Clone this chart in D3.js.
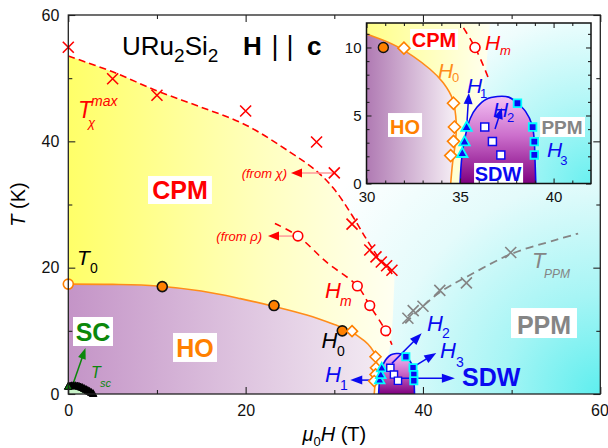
<!DOCTYPE html>
<html><head><meta charset="utf-8">
<script src="https://cdn.jsdelivr.net/npm/d3@7"></script>
<style>
html,body{margin:0;padding:0;background:#fff;}
svg{display:block;font-family:"Liberation Sans",Arial,sans-serif;}
</style></head><body>
<svg id="chart" width="608" height="448"></svg>
<script>
// ---------------- data (field in tesla, temperature in kelvin) ----------------
// T_chi^max crosses
const tChiH = [0, 5, 10, 20, 28, 30, 32, 34, 34.7, 35.3, 35.9, 36.5];
const tChiT = [54.9, 49.9, 47.3, 44.8, 39.9, 35.0, 26.9, 22.8, 21.7, 20.9, 20.3, 19.6];
// T_chi^max guide line
const tChiGuideH = [0, 5, 10, 15, 20, 25, 28, 30, 32, 33.5, 35, 36.8];
const tChiGuideT = [53.5, 51.0, 48.0, 45.4, 42.6, 38.3, 35.3, 32.4, 28.3, 24.8, 21.6, 18.6];
// metamagnetic field H_m (open circles) and its guide line
const hmH = [25.9, 32.6, 34.0, 35.8];
const hmT = [25.0, 17.1, 14.0, 10.0];
const hmGuideH = [23.3, 25.9, 29.1, 32.6, 34.0, 35.8, 36.5];
const hmGuideT = [27.0, 25.0, 20.9, 17.1, 14.0, 10.0, 7.8];
// hidden-order boundary T0 / H0
const t0OpenH = [0];
const t0OpenT = [17.4];
const h0CircleH = [10.6, 23.2, 30.9];
const h0CircleT = [17.0, 14.0, 10.0];
const h0DiamondH = [32.0, 34.65, 34.7, 34.65, 34.5];
const h0DiamondT = [9.95, 5.9, 4.15, 3.1, 2.05];
const hoLineH = [0, 5, 10, 15, 19.4, 23.1, 26.9, 30.0, 31.6, 33.4, 34.1, 34.6, 34.8, 34.75, 34.6, 34.5];
const hoLineT = [17.4, 17.35, 17.1, 16.3, 15.1, 13.9, 12.5, 11.0, 10.1, 8.4, 7.4, 6.2, 4.4, 3.0, 1.5, 0];
// spin-density-wave dome
const sdwDomeH = [35.0, 35.1, 35.3, 35.55, 35.9, 36.4, 37.0, 37.6, 38.07, 38.5, 38.85, 38.97, 39.0, 39.05];
const sdwDomeT = [0, 2.0, 3.6, 4.8, 5.6, 6.2, 6.4, 6.35, 5.9, 5.3, 4.3, 3.1, 2.0, 0];
const h1H = [35.12, 35.24, 35.35];
const h1T = [2.23, 3.08, 4.15];
const h2H = [36.32, 36.73, 37.18];
const h2T = [4.15, 3.08, 2.1];
const h3H = [38.07, 38.88, 38.97, 38.97];
const h3T = [5.9, 4.15, 3.08, 2.1];
// polarized paramagnet crossover T_PPM
const tPpmH = [38.3, 38.9, 40.0, 41.9, 44.9, 49.9];
const tPpmT = [12.0, 13.2, 13.9, 16.4, 17.6, 22.4];
const tPpmGuideH = [38.0, 40, 42, 45, 50, 55, 57.5];
const tPpmGuideT = [11.2, 13.9, 16.2, 18.6, 22.2, 24.4, 25.4];
// superconducting T_sc(H)
const scH = [0, 0.2, 0.4, 0.6, 0.8, 1.0, 1.2, 1.4, 1.6, 1.8, 2.0, 2.2, 2.4, 2.6, 2.8];
const scT = [1.2, 1.25, 1.3, 1.3, 1.3, 1.25, 1.2, 1.1, 1.0, 0.85, 0.7, 0.55, 0.4, 0.22, 0.05];
// axis ticks
const mainXTicks = [0, 20, 40, 60];
const mainXMinor = [10, 30, 50];
const mainYTicks = [0, 20, 40, 60];
const mainYMinor = [10, 30, 50];
const insetXTicks = [30, 35, 40];
const insetXMinor = [31, 32, 33, 34, 36, 37, 38, 39, 41];
const insetYTicks = [0, 5, 10];
const insetYMinor = [1, 2, 3, 4, 6, 7, 8, 9, 11];

const zip = (a, b) => a.map((v, i) => [v, b[i]]);

// ---------------- scales ----------------
const x = d3.scaleLinear().domain([0, 60]).range([68.3, 600.3]);
const y = d3.scaleLinear().domain([0, 60]).range([394, 15]);
const xi = d3.scaleLinear().domain([30, 42]).range([366.5, 591]);
const yi = d3.scaleLinear().domain([0, 11.8]).range([183.5, 23]);

const svg = d3.select('#chart');
const defs = svg.append('defs');

function linGrad(id, x1, y1, x2, y2, stops) {
  const g = defs.append('linearGradient').attr('id', id).attr('gradientUnits', 'userSpaceOnUse')
    .attr('x1', x1).attr('y1', y1).attr('x2', x2).attr('y2', y2);
  stops.forEach(([o, c]) => g.append('stop').attr('offset', o).attr('stop-color', c));
}
function radGrad(id, cx, cy, r, stops) {
  const g = defs.append('radialGradient').attr('id', id).attr('gradientUnits', 'userSpaceOnUse')
    .attr('cx', cx).attr('cy', cy).attr('r', r);
  stops.forEach(([o, c]) => g.append('stop').attr('offset', o).attr('stop-color', c));
}
function vGrad(id, stops) {
  const g = defs.append('linearGradient').attr('id', id).attr('x1', 0).attr('y1', 0).attr('x2', 0).attr('y2', 1);
  stops.forEach(([o, c]) => g.append('stop').attr('offset', o).attr('stop-color', c));
}

radGrad('ppmMain', x(60), y(0), 330, [[0, '#5eeeee'], [0.3, '#a6f5f5'], [0.65, '#e4fbfb'], [1, '#ffffff']]);
linGrad('cpmMain', x(0), 0, x(37), 0, [[0, '#ffff68'], [0.6, '#ffffc0'], [1, '#fffff2']]);
linGrad('hoMain', x(0), 0, x(34.7), 0, [[0, '#c494c7'], [1, '#f2e9f2']]);
vGrad('sdwFill', [[0, '#f4c2f4'], [0.45, '#cc6fcc'], [1, '#800080']]);
radGrad('ppmInset', xi(42), yi(0), 210, [[0, '#6af0f0'], [0.4, '#b4f7f7'], [0.8, '#effdfd'], [1, '#ffffff']]);
linGrad('cpmInset', xi(30), 0, xi(36.6), 0, [[0, '#ffff88'], [1, '#fffff0']]);
linGrad('hoInset', xi(30), 0, xi(34.7), 0, [[0, '#b07ab3'], [1, '#f5eef5']]);

defs.append('clipPath').attr('id', 'clipMain').append('rect')
  .attr('x', x(0)).attr('y', y(60)).attr('width', x(60) - x(0)).attr('height', y(0) - y(60));
defs.append('clipPath').attr('id', 'clipInset').append('rect')
  .attr('x', xi(30)).attr('y', yi(11.8)).attr('width', xi(42) - xi(30)).attr('height', yi(0) - yi(11.8));

const RED = '#ff0000', ORANGE = '#ff8000', BLUE = '#0a0af0', GREEN = '#0b870b', GRAY = '#858585', CYAN = '#00ffff';

// ---------------- helpers ----------------
const curveLine = (sx, sy) => d3.line().x(d => sx(d[0])).y(d => sy(d[1])).curve(d3.curveCatmullRom.alpha(0.5));

function drawPhases(g, sx, sy, ids, x0, x1, t0, t1) {
  g.append('rect').attr('x', sx(x0)).attr('y', sy(t1)).attr('width', sx(x1) - sx(x0)).attr('height', sy(t0) - sy(t1))
    .attr('fill', `url(#${ids.ppm})`);
  // correlated paramagnet: below T_chi^max, down to the SDW dome
  const top = curveLine(sx, sy)(zip(tChiGuideH, tChiGuideT));
  const edge = [[36.6, 12], [36.4, 8.5], [36.1, 6.0], [35.55, 4.8], [35.3, 3.6], [35.1, 2.0], [35.0, 0], [0, 0]];
  g.append('path').attr('d', top + edge.map(p => `L${sx(p[0])},${sy(p[1])}`).join('') + 'Z')
    .attr('fill', `url(#${ids.cpm})`);
  // hidden order
  const ho = curveLine(sx, sy)(zip(hoLineH, hoLineT));
  g.append('path').attr('d', ho + `L${sx(0)},${sy(0)}Z`).attr('fill', `url(#${ids.ho})`);
  // SDW dome
  const dome = curveLine(sx, sy)(zip(sdwDomeH, sdwDomeT));
  g.append('path').attr('d', dome + 'Z').attr('fill', 'url(#sdwFill)');
  g.append('path').attr('d', dome).attr('fill', 'none').attr('stroke', BLUE).attr('stroke-width', 1.6);
}

function markers(g, xs, ys, sx, sy, shape, s, style) {
  const paths = {
    cross: `M${-s},${-s}L${s},${s}M${-s},${s}L${s},${-s}`,
    diamond: `M0,${-s}L${s},0L0,${s}L${-s},0Z`,
    square: `M${-s},${-s}H${s}V${s}H${-s}Z`,
    triangle: `M0,${-s}L${s * 0.95},${s * 0.7}L${-s * 0.95},${s * 0.7}Z`
  };
  const sel = g.append('g').selectAll('g').data(zip(xs, ys)).join(shape === 'circle' ? 'circle' : 'path');
  if (shape === 'circle') sel.attr('cx', d => sx(d[0])).attr('cy', d => sy(d[1])).attr('r', s);
  else sel.attr('transform', d => `translate(${sx(d[0])},${sy(d[1])})`).attr('d', paths[shape]);
  Object.entries(style).forEach(([k, v]) => sel.attr(k, v));
  return sel;
}

function arrow(g, x1, y1, x2, y2, o) {
  const len = o.len || 12, half = o.half || 4.5;
  const dx = x2 - x1, dy = y2 - y1, L = Math.hypot(dx, dy), ux = dx / L, uy = dy / L;
  const bx = x2 - ux * len, by = y2 - uy * len;
  g.append('line').attr('x1', x1).attr('y1', y1).attr('x2', bx + ux).attr('y2', by + uy)
    .attr('stroke', o.line || o.color).attr('stroke-width', o.width || 1.5);
  g.append('path').attr('d', `M${x2},${y2}L${bx - uy * half},${by + ux * half}L${bx + uy * half},${by - ux * half}Z`)
    .attr('fill', o.color);
}

function txt(g, px, py, s, o) {
  const t = g.append('text').attr('x', px).attr('y', py).text(s)
    .attr('font-size', o.size).attr('fill', o.color || '#000');
  if (o.bold) t.attr('font-weight', 'bold');
  if (o.italic) t.attr('font-style', 'italic');
  if (o.anchor) t.attr('text-anchor', o.anchor);
  return t;
}

function boxLabel(g, sx, sy, box, cx, base, s, o) {
  g.append('rect').attr('x', sx(box[0])).attr('y', sy(box[3])).attr('width', sx(box[1]) - sx(box[0]))
    .attr('height', sy(box[2]) - sy(box[3])).attr('fill', '#fff');
  txt(g, sx(cx), sy(base), s, Object.assign({ bold: true, anchor: 'middle' }, o));
}

function symLabel(g, sx, sy, p, main, q, sub, o) {
  txt(g, sx(p[0]), sy(p[1]), main, { size: o.size, color: o.color, italic: true });
  txt(g, sx(q[0]), sy(q[1]), sub, { size: o.subSize, color: o.color, italic: !!o.subItalic });
}

// ================= main panel =================
const main = svg.append('g');
const phases = main.append('g').attr('clip-path', 'url(#clipMain)');
phases.append('rect').attr('x', x(0)).attr('y', y(60)).attr('width', x(60) - x(0)).attr('height', y(0) - y(60)).attr('fill', '#fff');
drawPhases(phases, x, y, { ppm: 'ppmMain', cpm: 'cpmMain', ho: 'hoMain' }, 0, 60, 0, 60);

// superconducting pocket
phases.append('path')
  .attr('d', d3.area().x(d => x(d[0])).y0(y(0)).y1(d => y(d[1])).curve(d3.curveCatmullRom)(zip(scH, scT)))
  .attr('fill', '#c9f3c9');

// guide lines
const lines = main.append('g').attr('clip-path', 'url(#clipMain)');
lines.append('path').attr('d', curveLine(x, y)(zip(hoLineH, hoLineT))).attr('fill', 'none')
  .attr('stroke', '#ff8c1a').attr('stroke-width', 1.6);
lines.append('path').attr('d', curveLine(x, y)(zip(tChiGuideH, tChiGuideT))).attr('fill', 'none')
  .attr('stroke', RED).attr('stroke-width', 1.6).attr('stroke-dasharray', '7,4');
lines.append('path').attr('d', curveLine(x, y)(zip(hmGuideH, hmGuideT))).attr('fill', 'none')
  .attr('stroke', RED).attr('stroke-width', 1.6).attr('stroke-dasharray', '7,5');
lines.append('path').attr('d', curveLine(x, y)(zip(tPpmGuideH, tPpmGuideT))).attr('fill', 'none')
  .attr('stroke', GRAY).attr('stroke-width', 1.8).attr('stroke-dasharray', '8,5');

// phase labels
const lab = main.append('g');
boxLabel(lab, x, y, [8.99, 16.2, 30.08, 34.51], 12.6, 30.87, 'CPM', { size: 25, color: RED });
boxLabel(lab, x, y, [0.53, 5.04, 7.6, 12.19], 2.79, 8.39, 'SC', { size: 25, color: GREEN });
boxLabel(lab, x, y, [11.81, 16.77, 5.07, 9.66], 14.29, 5.86, 'HO', { size: 25, color: ORANGE });
boxLabel(lab, x, y, [49.93, 57.37, 8.86, 13.61], 53.65, 9.5, 'PPM', { size: 25, color: GRAY });
txt(lab, x(44.4), y(1.27), 'SDW', { size: 25, bold: true, color: BLUE });

// title
txt(lab, x(6.06), y(53.66), 'URu', { size: 26 }).append('tspan').attr('font-size', 19).attr('dy', 7).text('2')
  .select(function () { return this.parentNode; }).append('tspan').attr('font-size', 26).attr('dy', -7).text('Si')
  .select(function () { return this.parentNode; }).append('tspan').attr('font-size', 19).attr('dy', 7).text('2');
txt(lab, x(19.7), y(53.66), 'H', { size: 26, bold: true });
txt(lab, x(23.31), y(53.66), '|', { size: 27, anchor: 'middle' });
txt(lab, x(25.0), y(53.66), '|', { size: 27, anchor: 'middle' });
txt(lab, x(26.92), y(53.66), 'c', { size: 26, bold: true });

// T_chi^max label
txt(lab, x(1.09), y(43.69), 'T', { size: 23, italic: true, color: RED });
txt(lab, x(2.56), y(45.59), 'max', { size: 14, italic: true, color: RED });
txt(lab, x(2.22), y(42.27), 'χ', { size: 13, italic: true, color: RED });
// source notes
txt(lab, x(24.67), y(34.19), '(from χ)', { size: 13, italic: true, color: RED, anchor: 'end' });
txt(lab, x(21.85), y(24.22), '(from ρ)', { size: 13, italic: true, color: RED, anchor: 'end' });
arrow(lab, x(30), y(35), x(25.12), y(35), { color: RED, line: '#ff9a9a', len: 11, half: 4.5 });
arrow(lab, x(25.9), y(25), x(22.52), y(25), { color: RED, line: '#ff9a9a', len: 11, half: 4.5 });

symLabel(lab, x, y, [0.98, 20.42], 'T', [2.45, 19.15], '0', { size: 21, subSize: 14, color: '#000' });
symLabel(lab, x, y, [28.95, 15.2], 'H', [30.64, 13.93], 'm', { size: 22, subSize: 14, color: RED, subItalic: true });
symLabel(lab, x, y, [28.56, 7.28], 'H', [30.3, 6.02], '0', { size: 22, subSize: 14, color: '#000' });
symLabel(lab, x, y, [28.95, 1.9], 'H', [30.64, 0.63], '1', { size: 22, subSize: 14, color: BLUE });
symLabel(lab, x, y, [40.45, 9.97], 'H', [42.14, 8.87], '2', { size: 22, subSize: 14, color: BLUE });
symLabel(lab, x, y, [41.92, 5.7], 'H', [43.73, 4.27], '3', { size: 22, subSize: 14, color: BLUE });
symLabel(lab, x, y, [52.3, 19.95], 'T', [53.65, 18.36], 'PPM', { size: 22, subSize: 12, color: GRAY, subItalic: true });
symLabel(lab, x, y, [2.56, 2.53], 'T', [3.58, 1.11], 'sc', { size: 16, subSize: 11, color: GREEN, subItalic: true });

// arrows of the SDW region
arrow(lab, x(35.0), y(2.2), x(31.8), y(2.2), { color: BLUE, len: 12, half: 4.5 });
arrow(lab, x(37.2), y(2.5), x(43.6), y(2.5), { color: BLUE, len: 13, half: 4.5 });
arrow(lab, x(36.5), y(4.85), x(39.85), y(9.6), { color: BLUE, len: 12, half: 4.5 });
arrow(lab, x(39.3), y(4.6), x(41.5), y(6.5), { color: BLUE, len: 12, half: 4.5 });
arrow(lab, x(0.56), y(1.69), x(1.94), y(7.28), { color: GREEN, len: 11, half: 4 });

// data markers
const mk = main.append('g');
markers(mk, scH, scT, x, y, 'triangle', 4, { fill: '#000', stroke: '#000', 'stroke-width': 1 });
markers(mk, scH.slice(0, 1), scT.slice(0, 1), x, y, 'triangle', 4, { fill: GREEN, stroke: '#000', 'stroke-width': 0.8 });
markers(mk, tChiH, tChiT, x, y, 'cross', 5.5, { fill: 'none', stroke: RED, 'stroke-width': 1.6 });
markers(mk, tPpmH, tPpmT, x, y, 'cross', 5.5, { fill: 'none', stroke: GRAY, 'stroke-width': 1.6 });
markers(mk, hmH, hmT, x, y, 'circle', 4.8, { fill: '#fff', stroke: RED, 'stroke-width': 1.6 });
markers(mk, t0OpenH, t0OpenT, x, y, 'circle', 5, { fill: '#fff', stroke: ORANGE, 'stroke-width': 1.6 });
markers(mk, h0CircleH, h0CircleT, x, y, 'circle', 5, { fill: ORANGE, stroke: '#111', 'stroke-width': 1.6 });
markers(mk, h0DiamondH, h0DiamondT, x, y, 'diamond', 5.5, { fill: '#fff', stroke: ORANGE, 'stroke-width': 1.6 });
markers(mk, h1H, h1T, x, y, 'triangle', 5, { fill: BLUE, stroke: CYAN, 'stroke-width': 1.8 });
markers(mk, h2H, h2T, x, y, 'square', 3.6, { fill: '#fff', stroke: BLUE, 'stroke-width': 1.4 });
markers(mk, h3H, h3T, x, y, 'square', 3.6, { fill: BLUE, stroke: CYAN, 'stroke-width': 1.8 });

// axes
function styleAxis(g, size) {
  g.select('.domain').remove();
  g.selectAll('line').attr('stroke', '#222').attr('stroke-width', 1.1);
  g.selectAll('text').attr('font-size', size).attr('fill', '#111').attr('font-family', '"Liberation Sans",Arial,sans-serif');
}
const ax = main.append('g');
const noLab = () => '';
const gxMain = ax.append('g').attr('transform', `translate(0,${y(0)})`)
  .call(d3.axisBottom(x).tickValues(mainXTicks).tickSize(-7).tickPadding(11).tickFormat(d3.format('d')));
styleAxis(gxMain, 16);
// keep the last label inside the canvas
gxMain.selectAll('text').filter(d => d === 60).attr('text-anchor', 'end').attr('dx', 8);
styleAxis(ax.append('g').attr('transform', `translate(0,${y(0)})`).call(d3.axisBottom(x).tickValues(mainXMinor).tickSize(-4).tickFormat(noLab)), 16);
styleAxis(ax.append('g').attr('transform', `translate(0,${y(60)})`).call(d3.axisTop(x).tickValues(mainXTicks).tickSize(-7).tickFormat(noLab)), 16);
styleAxis(ax.append('g').attr('transform', `translate(0,${y(60)})`).call(d3.axisTop(x).tickValues(mainXMinor).tickSize(-4).tickFormat(noLab)), 16);
styleAxis(ax.append('g').attr('transform', `translate(${x(0)},0)`).call(d3.axisLeft(y).tickValues(mainYTicks).tickSize(-7).tickPadding(9).tickFormat(d3.format('d'))), 16);
styleAxis(ax.append('g').attr('transform', `translate(${x(0)},0)`).call(d3.axisLeft(y).tickValues(mainYMinor).tickSize(-4).tickFormat(noLab)), 16);
styleAxis(ax.append('g').attr('transform', `translate(${x(60)},0)`).call(d3.axisRight(y).tickValues(mainYTicks).tickSize(-7).tickFormat(noLab)), 16);
styleAxis(ax.append('g').attr('transform', `translate(${x(60)},0)`).call(d3.axisRight(y).tickValues(mainYMinor).tickSize(-4).tickFormat(noLab)), 16);
ax.append('rect').attr('x', x(0)).attr('y', y(60)).attr('width', x(60) - x(0)).attr('height', y(0) - y(60))
  .attr('fill', 'none').attr('stroke', '#222').attr('stroke-width', 1.3);

// axis titles
const xt = ax.append('text').attr('x', (x(0) + x(60)) / 2).attr('y', 441).attr('text-anchor', 'middle').attr('font-size', 20);
xt.append('tspan').attr('font-style', 'italic').text('μ');
xt.append('tspan').attr('font-size', 13).attr('dy', 5).text('0');
xt.append('tspan').attr('font-style', 'italic').attr('dy', -5).text('H');
xt.append('tspan').text(' (T)');
const yt = ax.append('text').attr('transform', `translate(25,${(y(0) + y(60)) / 2}) rotate(-90)`).attr('text-anchor', 'middle').attr('font-size', 20);
yt.append('tspan').attr('font-style', 'italic').text('T');
yt.append('tspan').text(' (K)');

// ================= inset: 30–42 T, 0–12 K =================
const inset = svg.append('g');
const iph = inset.append('g').attr('clip-path', 'url(#clipInset)');
iph.append('rect').attr('x', xi(30)).attr('y', yi(11.8)).attr('width', xi(42) - xi(30)).attr('height', yi(0) - yi(11.8)).attr('fill', '#fff');
drawPhases(iph, xi, yi, { ppm: 'ppmInset', cpm: 'cpmInset', ho: 'hoInset' }, 30, 42, 0, 11.8);
iph.append('path').attr('d', curveLine(xi, yi)(zip(hoLineH, hoLineT))).attr('fill', 'none')
  .attr('stroke', '#ff8c1a').attr('stroke-width', 1.6);
iph.append('path').attr('d', curveLine(xi, yi)(zip(hmGuideH, hmGuideT))).attr('fill', 'none')
  .attr('stroke', RED).attr('stroke-width', 1.6).attr('stroke-dasharray', '7,5');

const ilab = inset.append('g');
boxLabel(ilab, xi, yi, [32.33, 34.89, 9.82, 11.36], 33.61, 10.04, 'CPM', { size: 20, color: RED });
boxLabel(ilab, xi, yi, [31.15, 32.97, 3.42, 5.18], 32.06, 3.64, 'HO', { size: 20, color: ORANGE });
boxLabel(ilab, xi, yi, [39.28, 41.68, 3.42, 4.89], 40.45, 3.64, 'PPM', { size: 19, color: GRAY });
boxLabel(ilab, xi, yi, [35.75, 38.37, 0.04, 1.51], 37.03, 0.18, 'SDW', { size: 20, color: BLUE });
symLabel(ilab, xi, yi, [36.34, 9.82], 'H', [37.14, 9.45], 'm', { size: 21, subSize: 13, color: RED, subItalic: true });
symLabel(ilab, xi, yi, [33.82, 7.76], 'H', [34.57, 7.46], '0', { size: 21, subSize: 13, color: '#ff8c1a' });
symLabel(ilab, xi, yi, [35.37, 6.65], 'H', [36.07, 6.29], '1', { size: 21, subSize: 13, color: BLUE });
symLabel(ilab, xi, yi, [36.76, 4.89], 'H', [37.51, 4.52], '2', { size: 21, subSize: 13, color: BLUE });
symLabel(ilab, xi, yi, [39.65, 1.95], 'H', [40.35, 1.36], '3', { size: 21, subSize: 13, color: BLUE });
arrow(ilab, xi(35.37), yi(4.5), xi(35.47), yi(6.65), { color: BLUE, len: 11, half: 4.5 });
arrow(ilab, xi(36.87), yi(4.0), xi(37.23), yi(5.55), { color: BLUE, len: 11, half: 4.5 });

const imk = inset.append('g').attr('clip-path', 'url(#clipInset)');
markers(imk, hmH, hmT, xi, yi, 'circle', 5, { fill: '#fff', stroke: RED, 'stroke-width': 1.6 });
markers(imk, h0CircleH, h0CircleT, xi, yi, 'circle', 5, { fill: ORANGE, stroke: '#111', 'stroke-width': 1.4 });
markers(imk, h0DiamondH, h0DiamondT, xi, yi, 'diamond', 6, { fill: '#fff', stroke: ORANGE, 'stroke-width': 1.6 });
markers(imk, h1H, h1T, xi, yi, 'triangle', 5.5, { fill: BLUE, stroke: CYAN, 'stroke-width': 1.8 });
markers(imk, h2H, h2T, xi, yi, 'square', 4, { fill: '#fff', stroke: BLUE, 'stroke-width': 1.5 });
markers(imk, h3H, h3T, xi, yi, 'square', 3.8, { fill: BLUE, stroke: CYAN, 'stroke-width': 1.8 });

const iax = inset.append('g');
styleAxis(iax.append('g').attr('transform', `translate(0,${yi(0)})`).call(d3.axisBottom(xi).tickValues(insetXTicks).tickSize(-5).tickPadding(8).tickFormat(d3.format('d'))), 15);
styleAxis(iax.append('g').attr('transform', `translate(0,${yi(0)})`).call(d3.axisBottom(xi).tickValues(insetXMinor).tickSize(-3).tickFormat(noLab)), 15);
styleAxis(iax.append('g').attr('transform', `translate(0,${yi(11.8)})`).call(d3.axisTop(xi).tickValues(insetXTicks).tickSize(-5).tickFormat(noLab)), 15);
styleAxis(iax.append('g').attr('transform', `translate(0,${yi(11.8)})`).call(d3.axisTop(xi).tickValues(insetXMinor).tickSize(-3).tickFormat(noLab)), 15);
styleAxis(iax.append('g').attr('transform', `translate(${xi(30)},0)`).call(d3.axisLeft(yi).tickValues(insetYTicks).tickSize(-5).tickPadding(5).tickFormat(d3.format('d'))), 15);
styleAxis(iax.append('g').attr('transform', `translate(${xi(30)},0)`).call(d3.axisLeft(yi).tickValues(insetYMinor).tickSize(-3).tickFormat(noLab)), 15);
styleAxis(iax.append('g').attr('transform', `translate(${xi(42)},0)`).call(d3.axisRight(yi).tickValues(insetYTicks).tickSize(-5).tickFormat(noLab)), 15);
styleAxis(iax.append('g').attr('transform', `translate(${xi(42)},0)`).call(d3.axisRight(yi).tickValues(insetYMinor).tickSize(-3).tickFormat(noLab)), 15);
iax.append('rect').attr('x', xi(30)).attr('y', yi(11.8)).attr('width', xi(42) - xi(30)).attr('height', yi(0) - yi(11.8))
  .attr('fill', 'none').attr('stroke', '#111').attr('stroke-width', 1.5);
</script>
</body></html>
